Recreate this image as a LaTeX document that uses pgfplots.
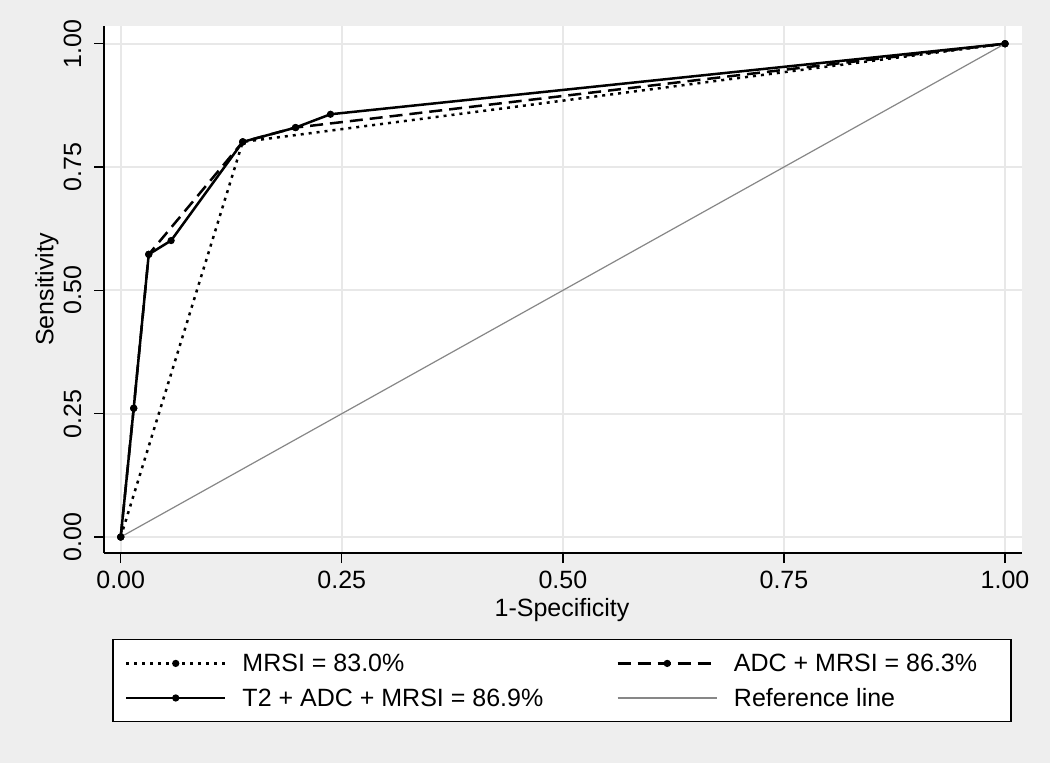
\documentclass[border=0pt]{standalone}
\usepackage{pgfplots}
\pgfplotsset{compat=1.18}
\usepackage{fontspec}
\setmainfont{Liberation Sans}
\definecolor{bgc}{RGB}{238,238,238}
\definecolor{gridc}{RGB}{232,232,232}
\definecolor{refc}{RGB}{135,135,135}
\newcommand\LE[2]{\makebox[#1][l]{\rule[-4pt]{0pt}{22pt}#2}}
\begin{document}
\begin{tikzpicture}[font=\fontsize{25}{30}\selectfont]
\fill[bgc] (0pt,0pt) rectangle (1050pt,-763pt);
\begin{axis}[
  at={(104pt,-553pt)}, anchor=south west,
  scale only axis, width=918pt, height=527pt,
  xmin=-0.0189, xmax=1.0192, ymin=-0.0324, ymax=1.0359,
  axis x line=bottom, axis y line=left,
  axis line style={-, line width=1.3pt, black},
  axis background/.style={fill=white},
  tick align=outside, major tick length=10pt,
  tick style={line width=1.3pt, black},
  xtick={0,0.25,0.5,0.75,1}, ytick={0,0.25,0.5,0.75,1},
  xticklabels={0.00,0.25,0.50,0.75,1.00},
  yticklabels={0.00,0.25,0.50,0.75,1.00},
  /pgf/number format/assume math mode=true,
  yticklabel style={rotate=90, anchor=south},
  yticklabel shift=9pt, xticklabel shift=5pt,
  grid=major, major grid style={line width=1.8pt, gridc},
  xlabel={1-Specificity}, ylabel={Sensitivity},
  xlabel style={at={(axis description cs:0.4989,-0.108)}, anchor=center},
  ylabel style={at={(axis description cs:-0.0621,0.5)}, anchor=center},
  legend columns=2,
  legend style={at={(axis description cs:0.4989,0)}, anchor=north, yshift=-86pt,
    draw=black, line width=1.3pt, fill=white, inner xsep=12pt, inner ysep=6.5pt,
    nodes={inner xsep=8pt, inner ysep=7.5pt},
    /tikz/every odd column/.append style={column sep=8pt},
    /tikz/every even column/.append style={column sep=0pt}},
  legend cell align=left,
  legend image code/.code={\draw[mark repeat=2,mark phase=2,#1] plot coordinates {(0pt,0pt) (49.5pt,0pt) (99pt,0pt)};},
]
\addplot[black, line width=2.5pt, dash pattern=on 3pt off 5pt, mark=*, mark size=2.3pt, mark options={solid}] coordinates {
  (0,0) (0.138,0.801) (1,1)};
\addlegendentry{\LE{366pt}{MRSI = 83.0\%}}
\addplot[black, line width=2.5pt, dash pattern=on 13pt off 7pt, mark=*, mark size=2.3pt, mark options={solid}] coordinates {
  (0,0) (0.0147,0.261) (0.0317,0.573) (0.138,0.801) (0.1977,0.830) (1,1)};
\addlegendentry{\LE{257pt}{ADC + MRSI = 86.3\%}}
\addplot[black, line width=2.5pt, mark=*, mark size=2.3pt] coordinates {
  (0,0) (0.0147,0.261) (0.0317,0.573) (0.057,0.601) (0.138,0.801) (0.1977,0.830) (0.2372,0.857) (1,1)};
\addlegendentry{\LE{366pt}{T2 + ADC + MRSI = 86.9\%}}
\addplot[refc, line width=1.2pt] coordinates {(0,0) (1,1)};
\addlegendentry{\LE{257pt}{Reference line}}
\end{axis}
\end{tikzpicture}
\end{document}
